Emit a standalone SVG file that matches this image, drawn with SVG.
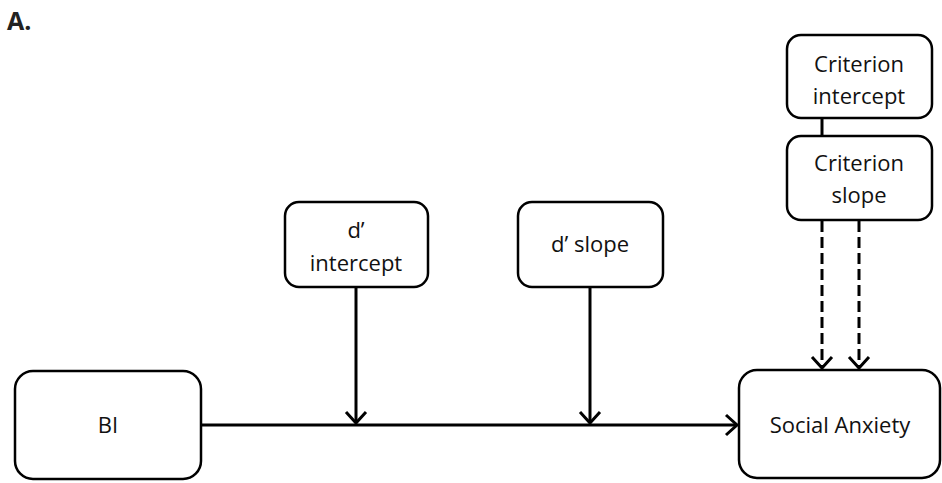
<svg xmlns="http://www.w3.org/2000/svg" width="942" height="483" viewBox="0 0 942 483">
  <style>
    .box { fill: #ffffff; stroke: #000000; stroke-width: 2.5; }
    .lbl { font-family: "Open Sans", "Noto Sans", sans-serif; font-size: 22px; fill: #111111; text-anchor: middle; }
    .wire { stroke: #000000; stroke-width: 3; fill: none; }
    .dash { stroke-dasharray: 11 5; }
    .tag { font-family: "Open Sans", "Noto Sans", sans-serif; font-size: 25px; font-weight: bold; fill: #222222; }
  </style>
  <defs>
    <marker id="vee" markerUnits="userSpaceOnUse" markerWidth="24" markerHeight="24" refX="13" refY="12" orient="auto">
      <path d="M2,2 L13,12 L2,22" fill="none" stroke="#000000" stroke-width="3"/>
    </marker>
  </defs>

  <text class="tag" x="7" y="30">A.</text>

  <g id="connectors">
    <line class="wire" x1="201" y1="425" x2="737" y2="425" marker-end="url(#vee)"/>
    <line class="wire" x1="356" y1="287" x2="356" y2="423" marker-end="url(#vee)"/>
    <line class="wire" x1="590" y1="287" x2="590" y2="423" marker-end="url(#vee)"/>
    <line class="wire" x1="822" y1="118" x2="822" y2="136"/>
    <line class="wire dash" x1="822" y1="221" x2="822" y2="368" marker-end="url(#vee)"/>
    <line class="wire dash" x1="859" y1="221" x2="859" y2="368" marker-end="url(#vee)"/>
  </g>

  <g id="bi">
    <rect class="box" x="15" y="371" width="186" height="108" rx="18"/>
    <text class="lbl" x="108" y="433">BI</text>
  </g>

  <g id="social-anxiety">
    <rect class="box" x="739" y="370" width="201" height="108" rx="18"/>
    <text class="lbl" x="840" y="433">Social Anxiety</text>
  </g>

  <g id="d-intercept">
    <rect class="box" x="285" y="202" width="143" height="85" rx="14"/>
    <text class="lbl" x="356" y="238">d’</text>
    <text class="lbl" x="356" y="271">intercept</text>
  </g>

  <g id="d-slope">
    <rect class="box" x="518" y="202" width="145" height="85" rx="14"/>
    <text class="lbl" x="590" y="252">d’ slope</text>
  </g>

  <g id="criterion-intercept">
    <rect class="box" x="787" y="35" width="145" height="83" rx="14"/>
    <text class="lbl" x="859" y="72">Criterion</text>
    <text class="lbl" x="859" y="104">intercept</text>
  </g>

  <g id="criterion-slope">
    <rect class="box" x="787" y="136" width="145" height="84" rx="14"/>
    <text class="lbl" x="859" y="171">Criterion</text>
    <text class="lbl" x="859" y="203">slope</text>
  </g>
</svg>
